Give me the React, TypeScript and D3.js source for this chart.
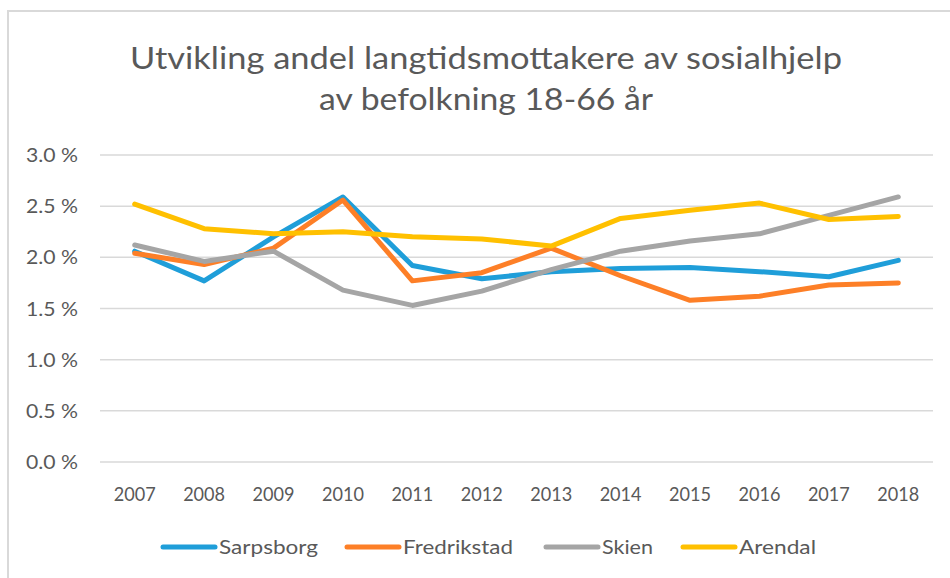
import React, { useEffect, useRef } from 'react'
import * as d3 from 'd3'

const years = ['2007', '2008', '2009', '2010', '2011', '2012', '2013', '2014', '2015', '2016', '2017', '2018']
const yTicks = [0, 0.5, 1, 1.5, 2, 2.5, 3]

const sarpsborg = [2.06, 1.77, 2.2, 2.59, 1.92, 1.79, 1.86, 1.89, 1.9, 1.86, 1.81, 1.97]
const fredrikstad = [2.04, 1.93, 2.09, 2.56, 1.77, 1.85, 2.09, 1.82, 1.58, 1.62, 1.73, 1.75]
const skien = [2.12, 1.96, 2.06, 1.68, 1.53, 1.67, 1.88, 2.06, 2.16, 2.23, 2.41, 2.59]
const arendal = [2.52, 2.28, 2.23, 2.25, 2.2, 2.18, 2.11, 2.38, 2.46, 2.53, 2.37, 2.4]

const seriesNames = ['Sarpsborg', 'Fredrikstad', 'Skien', 'Arendal']
const seriesColors = ['#1f9ed9', '#fd7f27', '#a5a5a5', '#ffc000']

const titleLines = ['Utvikling andel langtidsmottakere av sosialhjelp', 'av befolkning 18-66 år']

export default function App() {
  const ref = useRef<SVGSVGElement | null>(null)

  useEffect(() => {
    const root = d3.select(ref.current)
    root.selectAll('*').remove()
    const font = "Lato, 'Open Sans', sans-serif"
    const textColor = '#595959'

    // chart frame
    root.append('rect')
      .attr('x', 8).attr('y', 11)
      .attr('width', 960).attr('height', 600)
      .attr('fill', '#fff')
      .attr('stroke', '#d9d9d9').attr('stroke-width', 2)

    // title
    const titleW = [712, 334]
    titleLines.forEach((t, i) => {
      root.append('text')
        .attr('x', 486).attr('y', 69 + i * 41)
        .attr('text-anchor', 'middle')
        .attr('font-family', font)
        .attr('font-size', 31)
        .attr('fill', textColor)
        .attr('textLength', titleW[i])
        .attr('lengthAdjust', 'spacingAndGlyphs')
        .text(t)
    })

    const x = d3.scaleBand().domain(years).range([100, 933])
    const y = d3.scaleLinear().domain([0, 3]).range([462, 155])

    // grid
    root.append('g')
      .selectAll('line')
      .data(yTicks)
      .join('line')
      .attr('x1', 100).attr('x2', 933)
      .attr('y1', d => y(d)).attr('y2', d => y(d))
      .attr('stroke', '#d9d9d9').attr('stroke-width', 1.5)

    // y labels
    root.append('g')
      .selectAll('text')
      .data(yTicks)
      .join('text')
      .attr('x', 78).attr('y', d => y(d) + 7)
      .attr('text-anchor', 'end')
      .attr('font-family', font).attr('font-size', 19.5)
      .attr('fill', textColor)
      .attr('textLength', 52)
      .attr('lengthAdjust', 'spacingAndGlyphs')
      .text(d => `${d3.format('.1f')(d)} %`)

    // x labels
    root.append('g')
      .selectAll('text')
      .data(years)
      .join('text')
      .attr('x', d => (x(d) || 0) + x.bandwidth() / 2)
      .attr('y', 501)
      .attr('text-anchor', 'middle')
      .attr('font-family', font).attr('font-size', 19.5)
      .attr('fill', textColor)
      .attr('textLength', 42)
      .attr('lengthAdjust', 'spacingAndGlyphs')
      .text(d => d)

    const series = [sarpsborg, fredrikstad, skien, arendal]
    const line = d3.line<number>()
      .x((d, i) => (x(years[i]) || 0) + x.bandwidth() / 2)
      .y(d => y(d))

    root.append('g')
      .selectAll('path')
      .data(series)
      .join('path')
      .attr('fill', 'none')
      .attr('stroke', (d, i) => seriesColors[i])
      .attr('stroke-width', 5)
      .attr('stroke-linejoin', 'round')
      .attr('stroke-linecap', 'round')
      .attr('d', d => line(d))

    // legend
    const legendX = [163, 347, 546, 683]
    const legendW = [99, 110, 51, 77]
    const leg = root.append('g')
    seriesNames.forEach((name, i) => {
      leg.append('line')
        .attr('x1', legendX[i]).attr('x2', legendX[i] + 52)
        .attr('y1', 547).attr('y2', 547)
        .attr('stroke', seriesColors[i]).attr('stroke-width', 5)
        .attr('stroke-linecap', 'round')
      leg.append('text')
        .attr('x', legendX[i] + 56).attr('y', 554)
        .attr('font-family', font).attr('font-size', 19.5)
        .attr('fill', textColor)
        .attr('textLength', legendW[i])
        .attr('lengthAdjust', 'spacingAndGlyphs')
        .text(name)
    })
  }, [])

  return (
    <div style={{ position: 'absolute', left: 0, top: 0 }}>
      <svg ref={ref} width={950} height={578} style={{ display: 'block' }} />
    </div>
  )
}
